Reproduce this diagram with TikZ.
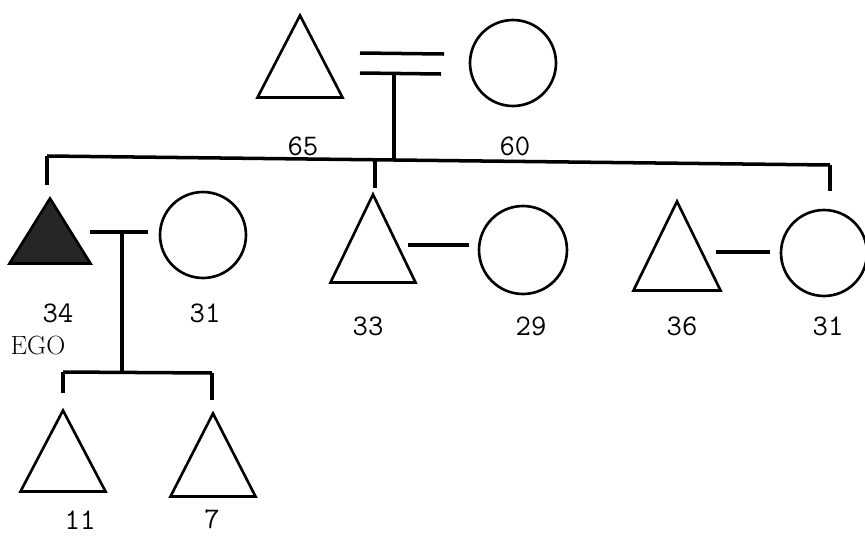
\documentclass[tikz,border=0pt]{standalone}
\usepackage{tikz}
\usetikzlibrary{shapes.geometric,calc}
\tikzset{
  malenode/.style={draw=black,line width=1.5pt,isosceles triangle,isosceles triangle stretches,
    shape border rotate=90,inner sep=0pt,anchor=apex,minimum width=1.7cm,minimum height=1.64cm},
  femalenode/.style={draw=black,line width=1.5pt,circle,inner sep=0pt,minimum size=1.72cm},
  egonode/.style={malenode,fill=black!85},
  kinline/.style={line width=2pt},
  agelabel/.style={font=\fontsize{17}{19}\selectfont\ttfamily},
  namelabel/.style={font=\fontsize{15}{17}\selectfont}
}

\begin{document}
\begin{tikzpicture}[x=0.02cm,y=-0.02cm]
  \useasboundingbox (0,0) rectangle (865,538);
  % parents
  \node[malenode] (father) at (300,12) {};
  \node[femalenode] (mother) at (513,63) {};
  \coordinate (pu1) at (360,53);
  \coordinate (pu2) at (444,54);
  \coordinate (pl1) at (360,73);
  \coordinate (pl2) at (441,74);
  \coordinate (pdrop) at (394,74);
  \draw[kinline] (pu1) -- (pu2);
  \draw[kinline] (pl1) -- (pl2);
  \node[agelabel] (age65) at (303,146) {65};
  \node[agelabel] (age60) at (515,146) {60};
  % siblings bar
  \coordinate (bl) at (47,156);
  \coordinate (bp) at (394,161);
  \coordinate (bm) at (375,161);
  \coordinate (br) at (830,165);
  \draw[kinline] (bl) -- (br);
  \draw[kinline] (pdrop) -- (bp);
  % second generation
  \node[egonode,minimum width=1.62cm,minimum height=1.3cm] (ego) at (50,195) {};
  \node[femalenode] (egowife) at (203,235) {};
  \node[malenode,minimum height=1.76cm] (bro) at (373,191) {};
  \node[femalenode,minimum size=1.76cm] (browife) at (523,250) {};
  \node[malenode,minimum width=1.74cm,minimum height=1.78cm] (sishusb) at (677,198) {};
  \node[femalenode,minimum size=1.72cm] (sis) at (824,253) {};
  \draw[kinline,shorten >=0.2cm] (bl) -- (bl |- ego.apex);
  \draw[kinline,shorten >=0.06cm] (bm) -- (bm |- bro.apex);
  \draw[kinline,shorten >=0.36cm] (br) -- (br |- sis.north);
  \coordinate (em1) at (90,232);
  \coordinate (em2) at (148,232);
  \coordinate (edrop) at (122,232);
  \coordinate (bw1) at (408,245);
  \coordinate (bw2) at (469,245);
  \coordinate (sh1) at (716,252);
  \coordinate (sh2) at (770,252);
  \draw[kinline] (em1) -- (em2);
  \draw[kinline] (bw1) -- (bw2);
  \draw[kinline] (sh1) -- (sh2);
  \node[agelabel] (age34) at (58,313) {34};
  \node[agelabel] (age31a) at (205,313) {31};
  \node[namelabel] (egolabel) at (38,345) {EGO};
  \node[agelabel] (age33) at (368,326) {33};
  \node[agelabel] (age29) at (531,326) {29};
  \node[agelabel] (age36) at (682,326) {36};
  \node[agelabel] (age31b) at (828,326) {31};
  % children
  \node[malenode,minimum height=1.62cm] (son1) at (63,407) {};
  \node[malenode,minimum height=1.66cm] (son2) at (213,410) {};
  \coordinate (cl) at (63,372);
  \coordinate (cr) at (212,373);
  \coordinate (cm) at (122,372);
  \draw[kinline] (edrop) -- (cm);
  \draw[kinline] (cl) -- (cr);
  \draw[kinline,shorten >=0.28cm] (cl) -- (cl |- son1.apex);
  \draw[kinline,shorten >=0.2cm] (cr) -- (cr |- son2.apex);
  \node[agelabel] (age11) at (80,520) {11};
  \node[agelabel] (age7) at (212,519) {7};
\end{tikzpicture}
\end{document}
